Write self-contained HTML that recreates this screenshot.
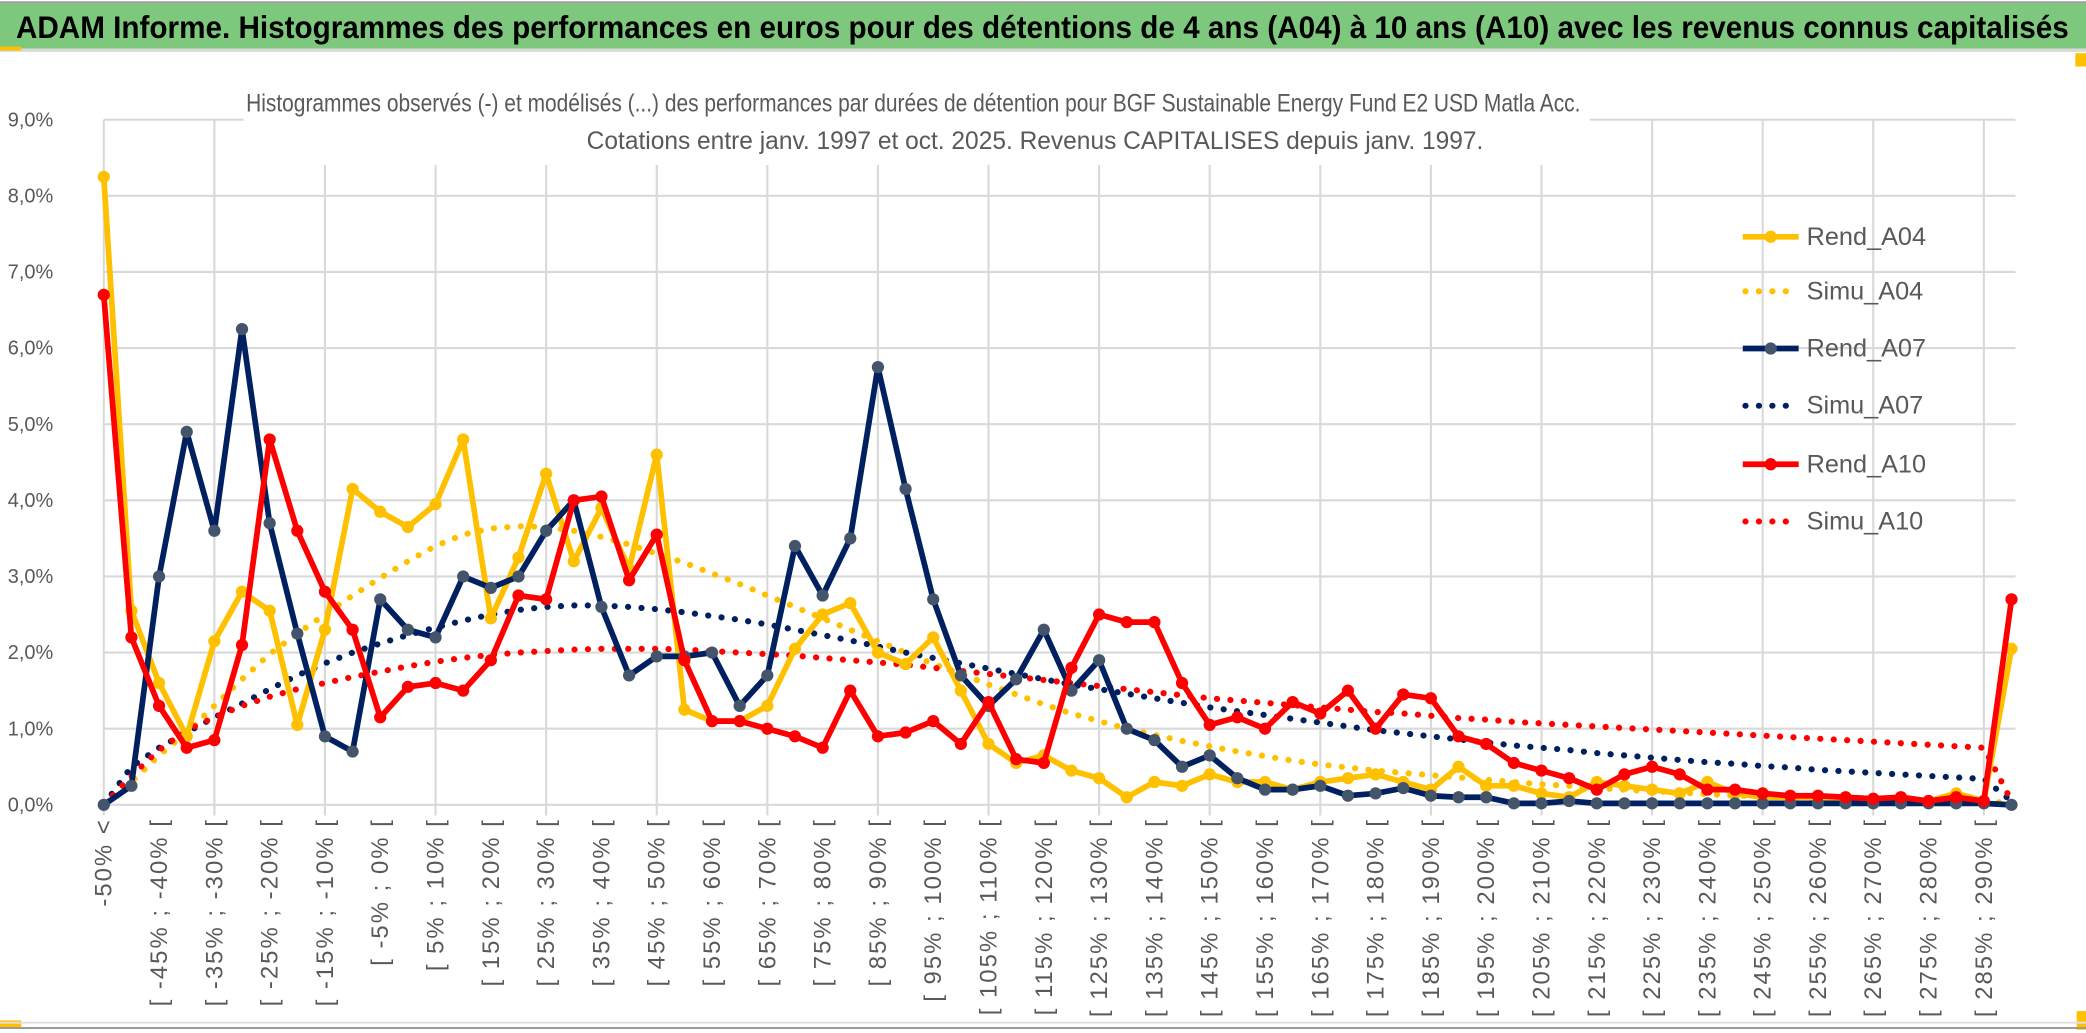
<!DOCTYPE html>
<html><head><meta charset="utf-8"><style>
html,body{margin:0;padding:0;background:#fff;}
svg{display:block;font-family:"Liberation Sans",sans-serif;}
</style></head><body>
<svg id="chart" width="2086" height="1033" viewBox="0 0 1568 776.5" preserveAspectRatio="none" xmlns="http://www.w3.org/2000/svg">
<rect x="0" y="0" width="1568" height="776.5" fill="#fff"/>
<rect x="0" y="1" width="1568" height="1.5" fill="#9a9a9a"/>
<rect x="0" y="2.5" width="1568" height="34" fill="#7dc87c"/>
<rect x="0" y="36.5" width="1568" height="2.5" fill="#d9d9d9"/>
<rect x="0" y="35" width="16" height="3" fill="#ffc000"/>
<rect x="1560" y="40" width="8" height="10" fill="#ffc000"/>
<rect x="0" y="767" width="16" height="5" fill="#ffc000"/>
<rect x="1561" y="760" width="7" height="14" fill="#ffc000"/>
<rect x="0" y="772" width="1568" height="1.5" fill="#9a9a9a"/>
<rect x="0" y="768" width="1568" height="1.5" fill="#e0e0e0"/>
<text x="12" y="28.5" font-size="24" font-weight="bold" fill="#000" textLength="1543" lengthAdjust="spacingAndGlyphs">ADAM Informe. Histogrammes des performances en euros pour des détentions de 4 ans (A04) à 10 ans (A10) avec les revenus connus capitalisés</text>
<g id="grid"></g>
<rect x="183" y="58" width="1012" height="66" fill="#fff"/>
<text x="185" y="84" font-size="19" fill="#595959" textLength="1003" lengthAdjust="spacingAndGlyphs">Histogrammes observés (-) et modélisés (...) des performances par durées de détention pour BGF Sustainable Energy Fund E2 USD Matla Acc.</text>
<text x="441" y="112" font-size="19" fill="#595959" textLength="674" lengthAdjust="spacingAndGlyphs">Cotations entre janv. 1997 et oct. 2025. Revenus CAPITALISES depuis janv. 1997.</text>
<g id="axes"></g>
<g id="series"></g>
<g id="legend"></g>
</svg>
<script>
const categories = ["-50% <"];
for (let k = 1; k < 70; k++) { categories.push("[ " + (-55 + 5 * k) + "% ; " + (-50 + 5 * k) + "% ["); }
const yTicks = [0,1,2,3,4,5,6,7,8,9];
const yTickLabels = ["0,0%","1,0%","2,0%","3,0%","4,0%","5,0%","6,0%","7,0%","8,0%","9,0%"];
const seriesNames = ["Rend_A04","Simu_A04","Rend_A07","Simu_A07","Rend_A10","Simu_A10"];
const rendA04 = [8.25,2.55,1.6,0.9,2.15,2.8,2.55,1.05,2.3,4.15,3.85,3.65,3.95,4.8,2.45,3.25,4.35,3.2,3.9,3.1,4.6,1.25,1.1,1.1,1.3,2.05,2.5,2.65,2.0,1.85,2.2,1.5,0.8,0.55,0.65,0.45,0.35,0.1,0.3,0.25,0.4,0.3,0.3,0.2,0.3,0.35,0.4,0.3,0.2,0.5,0.25,0.25,0.15,0.1,0.3,0.25,0.2,0.15,0.3,0.15,0.1,0.1,0.1,0.05,0.05,0.1,0.05,0.15,0.05,2.05];
const simuA04 = [0,0.3,0.65,0.95,1.3,1.65,1.98,2.25,2.5,2.75,2.98,3.2,3.4,3.55,3.63,3.66,3.65,3.6,3.52,3.42,3.3,3.18,3.04,2.9,2.75,2.6,2.45,2.3,2.15,2.0,1.85,1.72,1.58,1.45,1.32,1.2,1.1,1.0,0.92,0.84,0.77,0.7,0.64,0.58,0.53,0.49,0.45,0.42,0.39,0.36,0.33,0.3,0.27,0.25,0.22,0.2,0.18,0.16,0.14,0.12,0.11,0.1,0.09,0.08,0.07,0.06,0.06,0.05,0.05,0.02];
const rendA07 = [0,0.25,3.0,4.9,3.6,6.25,3.7,2.25,0.9,0.7,2.7,2.3,2.2,3.0,2.85,3.0,3.6,4.0,2.6,1.7,1.95,1.95,2.0,1.3,1.7,3.4,2.75,3.5,5.75,4.15,2.7,1.7,1.3,1.65,2.3,1.5,1.9,1.0,0.85,0.5,0.65,0.35,0.2,0.2,0.25,0.12,0.15,0.22,0.12,0.1,0.1,0.02,0.02,0.05,0.02,0.02,0.02,0.02,0.02,0.02,0.02,0.02,0.02,0.02,0.02,0.02,0.02,0.02,0.02,0];
const simuA07 = [0,0.5,0.75,0.95,1.15,1.33,1.52,1.7,1.86,2.0,2.12,2.23,2.33,2.42,2.5,2.56,2.6,2.62,2.62,2.6,2.57,2.53,2.48,2.43,2.37,2.3,2.23,2.16,2.08,2.0,1.93,1.86,1.79,1.72,1.65,1.58,1.52,1.46,1.4,1.34,1.28,1.23,1.18,1.13,1.08,1.03,0.98,0.94,0.9,0.86,0.82,0.78,0.75,0.72,0.68,0.65,0.62,0.59,0.56,0.54,0.51,0.49,0.46,0.44,0.42,0.4,0.38,0.36,0.34,0.05];
const rendA10 = [6.7,2.2,1.3,0.75,0.85,2.1,4.8,3.6,2.8,2.3,1.15,1.55,1.6,1.5,1.9,2.75,2.7,4.0,4.05,2.95,3.55,1.9,1.1,1.1,1.0,0.9,0.75,1.5,0.9,0.95,1.1,0.8,1.35,0.6,0.55,1.8,2.5,2.4,2.4,1.6,1.05,1.15,1.0,1.35,1.2,1.5,1.0,1.45,1.4,0.9,0.8,0.55,0.45,0.35,0.2,0.4,0.5,0.4,0.2,0.2,0.15,0.12,0.12,0.1,0.08,0.1,0.05,0.1,0.05,2.7];
const simuA10 = [0,0.38,0.72,0.98,1.15,1.3,1.42,1.52,1.6,1.68,1.75,1.82,1.88,1.93,1.97,2.0,2.02,2.04,2.05,2.05,2.05,2.04,2.02,2.0,1.98,1.96,1.93,1.9,1.87,1.84,1.8,1.76,1.72,1.68,1.64,1.6,1.56,1.52,1.48,1.44,1.4,1.37,1.34,1.31,1.28,1.25,1.22,1.2,1.17,1.14,1.12,1.09,1.07,1.05,1.03,1.01,0.99,0.97,0.95,0.93,0.91,0.89,0.87,0.85,0.83,0.81,0.79,0.77,0.75,0.05];

const NS = "http://www.w3.org/2000/svg";
const X0 = 78, X1 = 1512, Y0 = 605, Y9 = 90;
function xs(i){ return X0 + i * (X1 - X0) / (categories.length - 1); }
function ys(v){ return Y0 - v * (Y0 - Y9) / 9; }
function mk(tag, attrs, parent){ const e = document.createElementNS(NS, tag); for (const k in attrs) e.setAttribute(k, attrs[k]); parent.appendChild(e); return e; }

const grid = document.getElementById('grid');
yTicks.forEach((t, j) => {
  const l = mk('line', {x1: X0, x2: 1515, y1: ys(t), y2: ys(t), stroke: '#d9d9d9', 'stroke-width': 1.6}, grid);
  
  
});
for (let i = 0; i < categories.length; i += 4) {
  const l = mk('line', {x1: xs(i), x2: xs(i), y1: ys(9), y2: Y0 + 8, stroke: '#d9d9d9', 'stroke-width': 1.6}, grid);
  
  
}
const axes = document.getElementById('axes');
yTicks.forEach((t, j) => {
  const tx = mk('text', {x: 40, y: ys(t) + 5, 'font-size': 15, fill: '#595959', 'text-anchor': 'end'}, axes);
  
  
  tx.textContent = yTickLabels[j];
});
categories.forEach((c, i) => {
  if (i % 2 !== 0 || i === categories.length - 1) return;
  const x = xs(i) + 6, y = 615;
  const tx = mk('text', {x: x, y: y, 'font-size': 18, fill: '#595959', 'text-anchor': 'end', 'letter-spacing': 1.5, transform: 'rotate(-90 ' + x + ' ' + y + ')'}, axes);
  
  
  tx.textContent = c;
});

const seriesG = document.getElementById('series');
function pathOf(arr){ return arr.map((v, i) => (i ? 'L' : 'M') + xs(i).toFixed(2) + ' ' + ys(v).toFixed(2)).join(' '); }
function dotted(arr, color, name){
  const p = mk('path', {d: pathOf(arr), fill: 'none', stroke: color, 'stroke-width': 4.6, 'stroke-linecap': 'round', 'stroke-dasharray': '0.1 10'}, seriesG);
  
  
}
function solid(arr, color, mcolor, name){
  const p = mk('path', {d: pathOf(arr), fill: 'none', stroke: color, 'stroke-width': 4.3, 'stroke-linejoin': 'round'}, seriesG);
  
  
  arr.forEach((v, i) => {
    const c = mk('circle', {cx: xs(i), cy: ys(v), r: 4.6, fill: mcolor}, seriesG);
    
    
  });
}
dotted(simuA04, '#ffc000', 'simu-a04-line');
dotted(simuA07, '#002060', 'simu-a07-line');
dotted(simuA10, '#ff0000', 'simu-a10-line');
solid(rendA04, '#ffc000', '#ffc000', 'rend-a04-line');
solid(rendA07, '#002060', '#44546a', 'rend-a07-line');
solid(rendA10, '#ff0000', '#ff0000', 'rend-a10-line');

const legend = document.getElementById('legend');
const lc = ['#ffc000','#ffc000','#002060','#002060','#ff0000','#ff0000'];
const lm = ['#ffc000',null,'#44546a',null,'#ff0000',null];
const ly = [178,219,262,305,349,392];
seriesNames.forEach((n, k) => {
  const g = mk('g', {}, legend);
  
  
  if (lm[k]) {
    mk('line', {x1: 1310, x2: 1352, y1: ly[k], y2: ly[k], stroke: lc[k], 'stroke-width': 4.3}, g);
    mk('circle', {cx: 1331, cy: ly[k], r: 4.6, fill: lm[k]}, g);
  } else {
    mk('line', {x1: 1312, x2: 1352, y1: ly[k], y2: ly[k], stroke: lc[k], 'stroke-width': 4.6, 'stroke-linecap': 'round', 'stroke-dasharray': '0.1 10'}, g);
  }
  const t = mk('text', {x: 1358, y: ly[k] + 6, 'font-size': 19, fill: '#595959'}, g);
  t.textContent = n;
});
</script>
</body></html>
